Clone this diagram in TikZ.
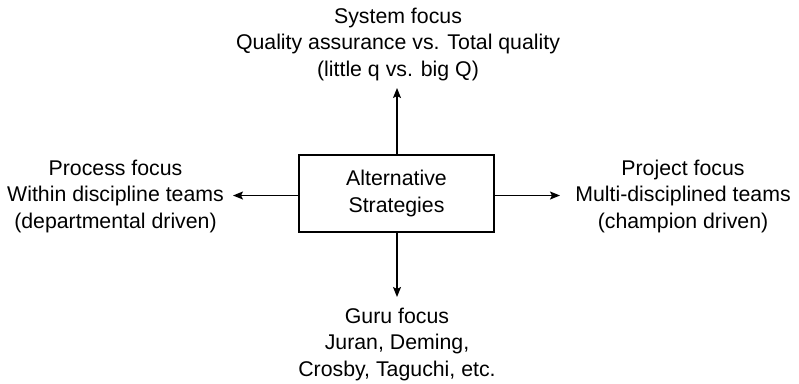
\documentclass[tikz,border=0pt]{standalone}
\usepackage{fontspec}
\setmainfont{Liberation Sans}
\usetikzlibrary{arrows.meta}
\begin{document}
\begin{tikzpicture}[x=1bp,y=-1bp,
  every node/.style={font=\fontsize{21.3bp}{26.5bp}\selectfont, align=center, inner sep=0pt},
  stratbox/.style={draw, line width=1.3bp, minimum width=195bp, minimum height=77bp},
  link/.style={line width=1.3bp, -{Stealth[length=10bp,width=8bp,inset=2bp]}}]
  \useasboundingbox (0,0) rectangle (799,383);
  % central box
  \node[stratbox] (core) at (396.5,193.5) {Alternative\\Strategies};
  % the four directions
  \node (system) at (398,44) {System focus\\Quality assurance vs. Total quality\\(little q vs. big Q)};
  \node (process) at (115.5,196) {Process focus\\Within discipline teams\\(departmental driven)};
  \node (project) at (683,196) {Project focus\\Multi-disciplined teams\\(champion driven)};
  \node (guru) at (397,344) {Guru focus\\Juran, Deming,\\Crosby, Taguchi, etc.};
  % arrow tips
  \coordinate (upTip) at (397,88);
  \coordinate (leftTip) at (233,195.5);
  \coordinate (rightTip) at (560,195.5);
  \coordinate (downTip) at (397,297);
  \draw[link] (core.north -| upTip) -- (upTip);
  \draw[link] (core.west |- leftTip) -- (leftTip);
  \draw[link] (core.east |- rightTip) -- (rightTip);
  \draw[link] (core.south -| downTip) -- (downTip);
\end{tikzpicture}
\end{document}
